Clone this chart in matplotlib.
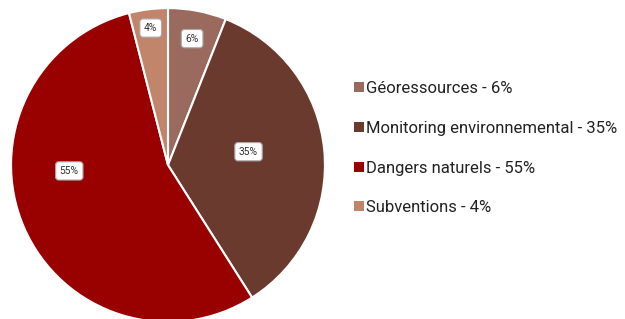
import numpy as np
import matplotlib.pyplot as plt
from matplotlib.patches import Patch

plt.rcParams['font.family'] = ['Roboto', 'DejaVu Sans']

categories = ['Géoressources', 'Monitoring environnemental', 'Dangers naturels', 'Subventions']
values = [6, 35, 55, 4]
colors = ['#9a6a5e', '#6b3a2e', '#990000', '#c0856a']

# where the value boxes sit: fraction of radius and angle tweak (deg)
label_r = [0.82, 0.52, 0.63, 0.88]
label_shift = [0, 4, -20, 0]

fig = plt.figure(figsize=(6.25, 3.19), dpi=100)
ax = fig.add_axes([0.0176, -0.0094, 0.5024, 0.984])
wedges, _ = ax.pie(values, colors=colors, startangle=90, counterclock=False,
                   wedgeprops=dict(edgecolor='white', linewidth=1.5))
ax.set_xlim(-1, 1)
ax.set_ylim(-1, 1)
ax.set_aspect('equal')

for w, v, r, s in zip(wedges, values, label_r, label_shift):
    ang = np.deg2rad((w.theta1 + w.theta2) / 2 + s)
    ax.text(r * np.cos(ang), r * np.sin(ang), f'{v}%', ha='center', va='center',
            fontsize=7.4, color='#333333',
            bbox=dict(boxstyle='round,pad=0.4,rounding_size=0.3', fc='white', ec='#aaaaaa', lw=0.8))

handles = [Patch(facecolor=c, edgecolor='none') for c in colors]
labels = [f'{c} - {v}%' for c, v in zip(categories, values)]
fig.legend(handles, labels, loc='center left', bbox_to_anchor=(0.543, 0.535), frameon=False,
           fontsize=12.0, handlelength=0.55, handleheight=0.55, handletextpad=0.12,
           labelspacing=1.48, labelcolor='#222222')

fig.savefig('out.png', dpi=100)
